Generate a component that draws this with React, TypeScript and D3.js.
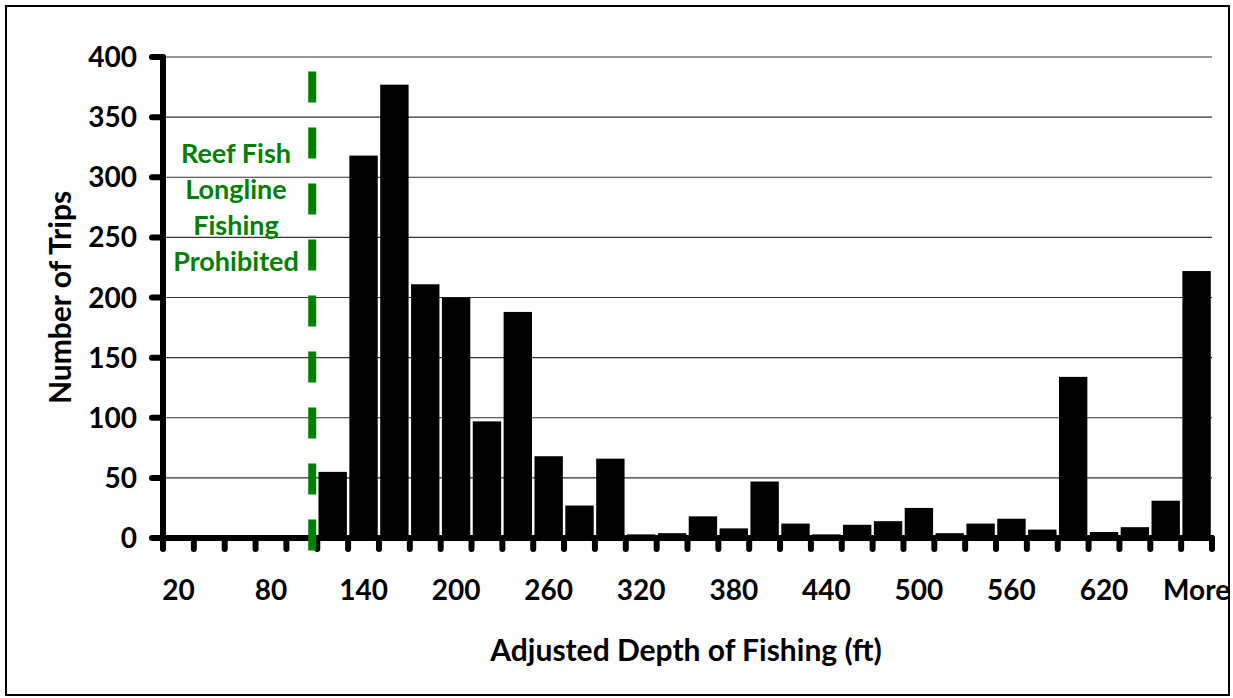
import * as d3 from "d3";

// histogram of trips by adjusted fishing depth
const depthBins = [
  "20", "40", "60", "80", "100", "120", "140", "160", "180", "200",
  "220", "240", "260", "280", "300", "320", "340", "360", "380", "400",
  "420", "440", "460", "480", "500", "520", "540", "560", "580", "600",
  "620", "640", "660", "More",
];
const tripCounts = [
  0, 0, 0, 0, 0, 55, 318, 377, 211, 200,
  97, 188, 68, 27, 66, 3, 4, 18, 8, 47,
  12, 3, 11, 14, 25, 4, 12, 16, 7, 134,
  5, 9, 31, 222,
];
const yTicks = [0, 50, 100, 150, 200, 250, 300, 350, 400];
const noteLines = ["Reef Fish", "Longline", "Fishing", "Prohibited"];

const W = 1233;
const H = 698;
const font = "Lato, 'Open Sans', sans-serif";
const green = "#008000";

export default function App() {
  const marginLeft = 163;
  const marginRight = 21;
  const marginTop = 57;
  const baseline = 538;

  const x = d3
    .scaleBand<string>()
    .domain(depthBins)
    .range([marginLeft, W - marginRight])
    .paddingInner(0.08)
    .paddingOuter(0.04);

  const y = d3.scaleLinear().domain([0, 400]).range([baseline, marginTop]);

  const step = x.step();
  const boundaries = d3.range(depthBins.length + 1).map((i) => marginLeft + i * step);
  const xLabels = depthBins.filter((_, i) => i % 3 === 0);

  // dashed line sits just before the 120 ft bin
  const lineX = x("100")! - x.bandwidth() * x.paddingInner() + step * 0.87;

  return (
    <svg
      width={W}
      height={H}
      style={{ position: "absolute", left: 0, top: 0, background: "#fff" }}
      fontFamily={font}
      fontWeight={700}
    >
      <rect x={6} y={6} width={1223} height={689} fill="#fff" stroke="#000" strokeWidth={2} />

      {/* gridlines */}
      <g stroke="#333" strokeWidth={1.2}>
        {yTicks.slice(1).map((t) => (
          <line key={t} x1={marginLeft} x2={W - marginRight} y1={y(t)} y2={y(t)} />
        ))}
      </g>

      {/* bars */}
      <g fill="#000">
        {depthBins.map((d, i) => (
          <rect
            key={d}
            x={x(d)}
            y={y(tripCounts[i])}
            width={x.bandwidth()}
            height={baseline - y(tripCounts[i])}
          />
        ))}
      </g>

      {/* axes */}
      <g stroke="#000" strokeWidth={6} strokeLinecap="round">
        <line x1={marginLeft} x2={marginLeft} y1={y(400)} y2={baseline} />
        <line x1={marginLeft} x2={W - marginRight} y1={baseline} y2={baseline} />
        {yTicks.map((t) => (
          <line key={t} x1={marginLeft - 11} x2={marginLeft} y1={y(t)} y2={y(t)} />
        ))}
        {boundaries.map((bx, i) => (
          <line key={i} x1={bx} x2={bx} y1={baseline} y2={baseline + 11} />
        ))}
      </g>

      {/* y tick labels */}
      <g fontSize={28} textAnchor="end">
        {yTicks.map((t) => (
          <text key={t} x={137} y={y(t)} dy="0.36em">
            {t}
          </text>
        ))}
      </g>

      {/* x tick labels */}
      <g fontSize={28} textAnchor="middle">
        {xLabels.map((d) => (
          <text key={d} x={x(d)! + x.bandwidth() / 2} y={590} dy="0.36em">
            {d}
          </text>
        ))}
      </g>

      {/* dashed prohibition line */}
      <line
        x1={lineX}
        x2={lineX}
        y1={y(388)}
        y2={baseline + 13}
        stroke={green}
        strokeWidth={8}
        strokeDasharray="31 25"
      />
      <g fill={green} fontSize={27} textAnchor="middle">
        {noteLines.map((s, i) => (
          <text key={s} x={236} y={153 + i * 36} dy="0.36em">
            {s}
          </text>
        ))}
      </g>

      {/* axis titles */}
      <text x={686} y={650} dy="0.36em" fontSize={30} textAnchor="middle">
        Adjusted Depth of Fishing (ft)
      </text>
      <text
        transform={`translate(60,${(y(400) + baseline) / 2}) rotate(-90)`}
        dy="0.36em"
        fontSize={30}
        textAnchor="middle"
      >
        Number of Trips
      </text>
    </svg>
  );
}
